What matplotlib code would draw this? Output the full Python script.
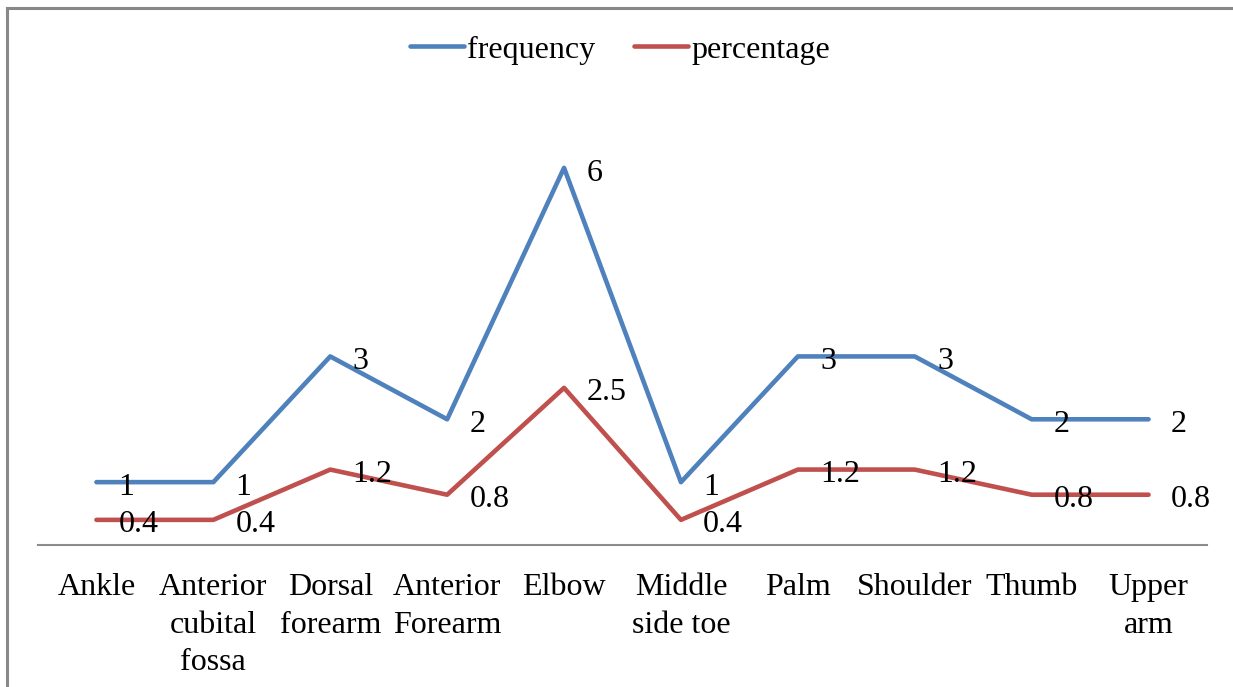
import matplotlib.pyplot as plt
import numpy as np
from matplotlib.lines import Line2D

# 데이터
sites = ['Ankle', 'Anterior\ncubital\nfossa', 'Dorsal\nforearm', 'Anterior\nForearm', 'Elbow',
         'Middle\nside toe', 'Palm', 'Shoulder', 'Thumb', 'Upper\narm']
frequency = [1, 1, 3, 2, 6, 1, 3, 3, 2, 2]
percentage = [0.4, 0.4, 1.2, 0.8, 2.5, 0.4, 1.2, 1.2, 0.8, 0.8]

blue = '#4F81BD'
red = '#C0504D'
fs = 23

plt.rcParams['font.family'] = ['Liberation Serif', 'DejaVu Serif']

W, H = 1233, 687
fig = plt.figure(figsize=(W / 100, H / 100), dpi=100)
fig.set_facecolor('white')
ax = fig.add_axes([38 / W, 1 - 545 / H, (1207 - 38) / W, (545 - 105) / H])

x = np.arange(len(sites))
ax.plot(x, frequency, color=blue, lw=3.3, solid_capstyle='round', label='frequency')
ax.plot(x, percentage, color=red, lw=3.3, solid_capstyle='round', label='percentage')

# 값 라벨 (점 오른쪽)
for xi, v in zip(x, frequency):
    ax.annotate('{:g}'.format(v), (xi, v), xytext=(16, -4), textcoords='offset points',
                ha='left', va='center', fontsize=fs)
for xi, v in zip(x, percentage):
    ax.annotate('{:g}'.format(v), (xi, v), xytext=(16, -3.5), textcoords='offset points',
                ha='left', va='center', fontsize=fs)

ax.set_xlim(-0.5, len(sites) - 0.5)
ax.set_ylim(0, 7)
ax.set_xticks(x)
ax.set_xticklabels(sites, fontsize=fs, linespacing=1.4)
ax.tick_params(axis='x', length=0, pad=20)
ax.set_yticks([])
for s in ['top', 'left', 'right']:
    ax.spines[s].set_visible(False)
ax.spines['bottom'].set_color('#8c8c8c')
ax.spines['bottom'].set_linewidth(1.5)

fig.legend(loc='center', bbox_to_anchor=(620 / W, 1 - 50 / H), ncol=2, frameon=False,
           fontsize=fs, handlelength=1.7, handletextpad=0.1, columnspacing=1.2)

# 차트 테두리
fig.add_artist(Line2D([6.5 / W, 1], [1 - 7.5 / H, 1 - 7.5 / H], color='#888888', lw=2.2,
                      transform=fig.transFigure))
fig.add_artist(Line2D([6.5 / W, 6.5 / W], [0, 1 - 7.5 / H], color='#888888', lw=2.2,
                      transform=fig.transFigure))

fig.savefig('out.png', dpi=100)
